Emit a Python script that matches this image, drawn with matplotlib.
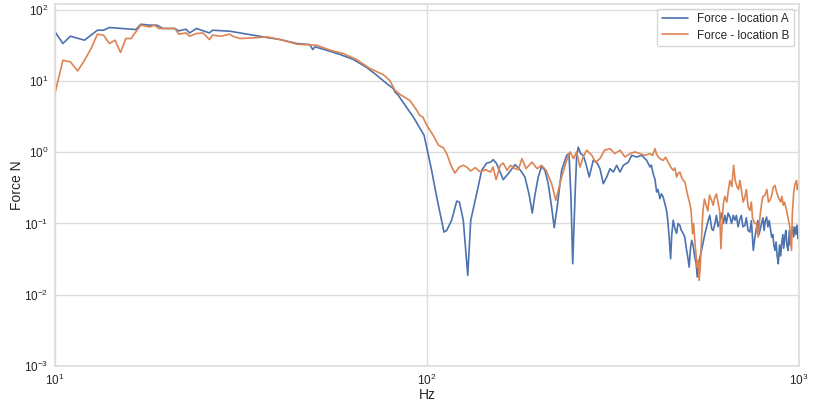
import numpy as np
import matplotlib
matplotlib.use("Agg")
import matplotlib.pyplot as plt
import seaborn as sns

# -----------------------------
# Data (Hz, N)
# -----------------------------
freq_a = [10, 10.5, 11, 12, 13, 13.5, 14, 16, 16.5, 17, 18, 18.8, 19.5, 21, 21.5,
          22.5, 23, 24, 26, 26.5, 29.5, 31.4, 34.1, 37.1, 40.3, 44.7, 48.4, 49.3,
          50, 53.7, 58.4, 63.4, 68.9, 73.3, 77.9, 81.2, 82, 83.7, 88.2, 91.9, 95.3,
          98.2, 99.8, 102.9, 106.2, 111.1, 113, 116.5, 120.2, 122.2, 125.2, 128.7,
          131.1, 136, 140.3, 144.7, 148.3, 150.7, 153.9, 160.3, 165.4, 172.4,
          177.8, 183.4, 188.4, 191.9, 195, 199.1, 203.3, 207.5, 211.8, 216.3,
          219.8, 223.9, 230.1, 237.4, 240.9, 243.8, 246.5, 250, 252.5, 255.1,
          258.8, 263, 267.5, 273, 279.9, 285.8, 291.7, 297.9, 304.2, 310.5, 316.9,
          323.6, 330.4, 337.3, 347.8, 355, 366.4, 377.8, 389.6, 397.6, 401, 405.6,
          410, 414.5, 418, 422.7, 427, 431.5, 436, 440.6, 444, 447.8, 451.9, 455,
          459.2, 464, 468.8, 473, 478.6, 483, 488.7, 493, 498.9, 502, 506.9, 511,
          514.8, 519, 524.8, 529, 533, 539, 544.5, 551, 558.9, 565, 570.5, 576,
          582.6, 588, 594.5, 600, 606, 613.2, 619, 626, 632.4, 638, 645, 652.3,
          659, 666, 672.9, 679, 686, 693.8, 700, 707, 715.8, 722, 730, 738.3, 745,
          753.8, 760, 769.7, 775, 781, 793.7, 800, 806, 812, 818.6, 825, 832,
          844.6, 851, 856, 862.1, 868, 874, 879.9, 887, 893, 898.5, 905, 910,
          916.2, 922, 928, 935.4, 942, 948, 955, 962, 968, 975, 982, 988, 995, 1000]
force_a = [48.8, 33.5, 42.5, 37.3, 51.5, 51.5, 56.2, 53.2, 52.6, 62.5, 60.6, 60.6,
           54.5, 54.5, 50.4, 53.2, 47.2, 54.5, 47.2, 51.5, 49.9, 47.2, 43.9, 40.7,
           38.1, 33.5, 32.4, 27.6, 30.1, 27.0, 23.5, 20.0, 15.4, 12.0, 9.19, 7.82,
           7.01, 6.30, 4.23, 3.12, 2.26, 1.73, 1.18, 0.557, 0.235, 0.0757, 0.080,
           0.111, 0.206, 0.200, 0.111, 0.0187, 0.111, 0.262, 0.557, 0.705, 0.725,
           0.787, 0.690, 0.412, 0.500, 0.670, 0.570, 0.449, 0.248, 0.140, 0.248,
           0.449, 0.634, 0.557, 0.362, 0.170, 0.0873, 0.170, 0.557, 0.904, 0.956,
           0.235, 0.0272, 0.235, 0.857, 1.18, 0.956, 0.904, 0.690, 0.449, 0.769,
           0.725, 0.589, 0.362, 0.449, 0.589, 0.527, 0.655, 0.527, 0.655, 0.725,
           0.904, 0.857, 0.904, 0.769, 0.620, 0.66, 0.500, 0.42, 0.276, 0.30,
           0.223, 0.26, 0.235, 0.19, 0.153, 0.11, 0.0644, 0.032, 0.07, 0.111,
           0.085, 0.0726, 0.10, 0.094, 0.08, 0.072, 0.065, 0.0419, 0.035, 0.0244,
           0.045, 0.058, 0.05, 0.0337, 0.028, 0.0177, 0.03, 0.0373, 0.05, 0.072,
           0.09, 0.111, 0.13, 0.0845, 0.08, 0.0995, 0.13, 0.09, 0.111, 0.14, 0.10,
           0.13, 0.10, 0.14, 0.123, 0.10, 0.13, 0.111, 0.13, 0.09, 0.115, 0.13,
           0.09, 0.094, 0.12, 0.08, 0.0757, 0.11, 0.0419, 0.06, 0.0896, 0.11, 0.07,
           0.0995, 0.12, 0.08, 0.11, 0.123, 0.09, 0.11, 0.0644, 0.07, 0.05, 0.0419,
           0.055, 0.035, 0.0272, 0.05, 0.035, 0.052, 0.07, 0.045, 0.0644, 0.08,
           0.05, 0.0419, 0.08, 0.05, 0.072, 0.09, 0.065, 0.0896, 0.07, 0.095,
           0.0612, 0.08]

freq_b = [10, 10.5, 11, 11.5, 12, 12.5, 13, 13.5, 14, 14.5, 15, 15.5, 16, 17, 18,
          18.5, 19, 21, 21.5, 22.5, 23, 24, 25, 26, 26.5, 28, 29.5, 30, 31.4, 34.1,
          37.1, 40.3, 44.7, 50.5, 54.9, 59.5, 64.6, 70.3, 76.2, 79.4, 82, 84.5,
          89.8, 93.6, 95.5, 97.5, 99.8, 103.9, 107.4, 110.6, 113, 116.5, 118.8,
          122.2, 125.2, 127.8, 131.1, 134.8, 139.2, 143.4, 148.3, 150.5, 153.4,
          157.4, 160.3, 164.2, 167.6, 172.4, 176.1, 180, 184.6, 191.5, 197.7,
          203.3, 209.1, 216.3, 222, 230.1, 237.4, 242.5, 247.7, 252.5, 257.8, 263,
          268.7, 277.6, 283.6, 291.7, 300.3, 310.5, 320, 330.4, 340.5, 351.5,
          362.5, 373.9, 385.6, 397.6, 404, 410.2, 414, 418.7, 425, 431.5, 438, 445,
          452, 459.2, 464, 468.8, 473, 478.6, 483, 488.7, 494, 498.9, 504, 509.1,
          513, 517.6, 521, 524.8, 528, 533, 536, 539.1, 543, 546.8, 549, 552.2,
          557, 563.1, 569, 575, 582.6, 588, 594.5, 600, 607, 612, 617, 621, 626.3,
          632, 640, 646.4, 652, 660, 667.4, 674, 681.7, 688, 693.8, 700, 708,
          715.8, 722, 730, 738.3, 745, 750, 761.7, 769, 777, 785, 793.7, 800, 810,
          820, 828, 836, 845, 853, 862.1, 870, 879.9, 893, 900, 907.6, 915, 926.3,
          935, 945, 955, 960, 968.5, 975, 985, 990, 995, 1000]
force_b = [6.8, 19.5, 18.5, 13.8, 19.5, 28.5, 45.3, 43.9, 33.5, 37.3, 25.1, 39.4,
           39.4, 60.6, 57.3, 60.6, 54.5, 54.5, 45.3, 47.2, 42.5, 46.3, 47.2, 38.1,
           43.9, 42.5, 45.3, 42.5, 39.4, 40.2, 41.5, 38.1, 32.8, 31.7, 27.0, 24.3,
           20.0, 14.9, 12.3, 10.2, 7.40, 6.50, 5.36, 3.97, 3.30, 3.12, 2.39, 1.73,
           1.25, 1.16, 0.956, 0.620, 0.510, 0.620, 0.655, 0.620, 0.545, 0.608,
           0.527, 0.570, 0.527, 0.620, 0.412, 0.655, 0.705, 0.557, 0.655, 0.589,
           0.570, 0.813, 0.589, 0.725, 0.589, 0.655, 0.557, 0.362, 0.211, 0.449,
           0.769, 1.01, 0.813, 1.01, 0.620, 0.857, 1.07, 0.904, 0.725, 0.813, 1.07,
           1.12, 0.956, 1.07, 0.857, 0.956, 1.01, 0.956, 0.904, 0.956, 0.90, 1.12,
           0.95, 0.857, 0.80, 0.769, 0.85, 0.725, 0.62, 0.557, 0.60, 0.449, 0.50,
           0.527, 0.45, 0.403, 0.38, 0.292, 0.23, 0.19, 0.15, 0.072, 0.10, 0.058,
           0.04, 0.0244, 0.03, 0.0159, 0.025, 0.058, 0.09, 0.153, 0.22, 0.18, 0.15,
           0.25, 0.211, 0.18, 0.235, 0.26, 0.19, 0.15, 0.0443, 0.09, 0.19, 0.24,
           0.20, 0.30, 0.40, 0.33, 0.655, 0.40, 0.325, 0.30, 0.403, 0.30, 0.20,
           0.235, 0.30, 0.17, 0.153, 0.20, 0.12, 0.0995, 0.10, 0.0644, 0.12, 0.19,
           0.24, 0.248, 0.30, 0.20, 0.211, 0.25, 0.32, 0.343, 0.28, 0.235, 0.20,
           0.24, 0.18, 0.20, 0.153, 0.12, 0.0896, 0.0419, 0.14, 0.276, 0.35, 0.403,
           0.30, 0.325, 0.38]

# -----------------------------
# Plot
# -----------------------------
sns.set_theme(style="whitegrid")
plt.rcParams["font.family"] = ["Liberation Sans", "DejaVu Sans"]
plt.rcParams["mathtext.fontset"] = "custom"
plt.rcParams["mathtext.rm"] = "Liberation Sans"
plt.rcParams["mathtext.default"] = "regular"
plt.rcParams["axes.unicode_minus"] = False

fig = plt.figure(figsize=(8.13, 4.04), dpi=100)
ax = fig.add_axes([0.0677, 0.094, 0.915, 0.896])

ax.plot(freq_a, force_a, color="#4C72B0", lw=1.2, label="Force - location A")
ax.plot(freq_b, force_b, color="#DD8452", lw=1.2, label="Force - location B")

ax.set_xscale("log")
ax.set_yscale("log")
ax.set_xlim(10, 1000)
ax.set_ylim(1e-3, 120)
ax.set_xlabel("Hz", fontsize=10, labelpad=0)
ax.set_ylabel("Force N", fontsize=10, labelpad=0)
ax.tick_params(which="both", length=0, labelsize=8.5, pad=5)
ax.grid(True, which="major", color="#dddddd", lw=1)
for s in ax.spines.values():
    s.set_color("#dddddd")

ax.legend(loc="upper right", fontsize=8.5, frameon=True,
          labelspacing=0.35, borderaxespad=0.4, handlelength=2.2)

fig.savefig("out.png", dpi=100)
